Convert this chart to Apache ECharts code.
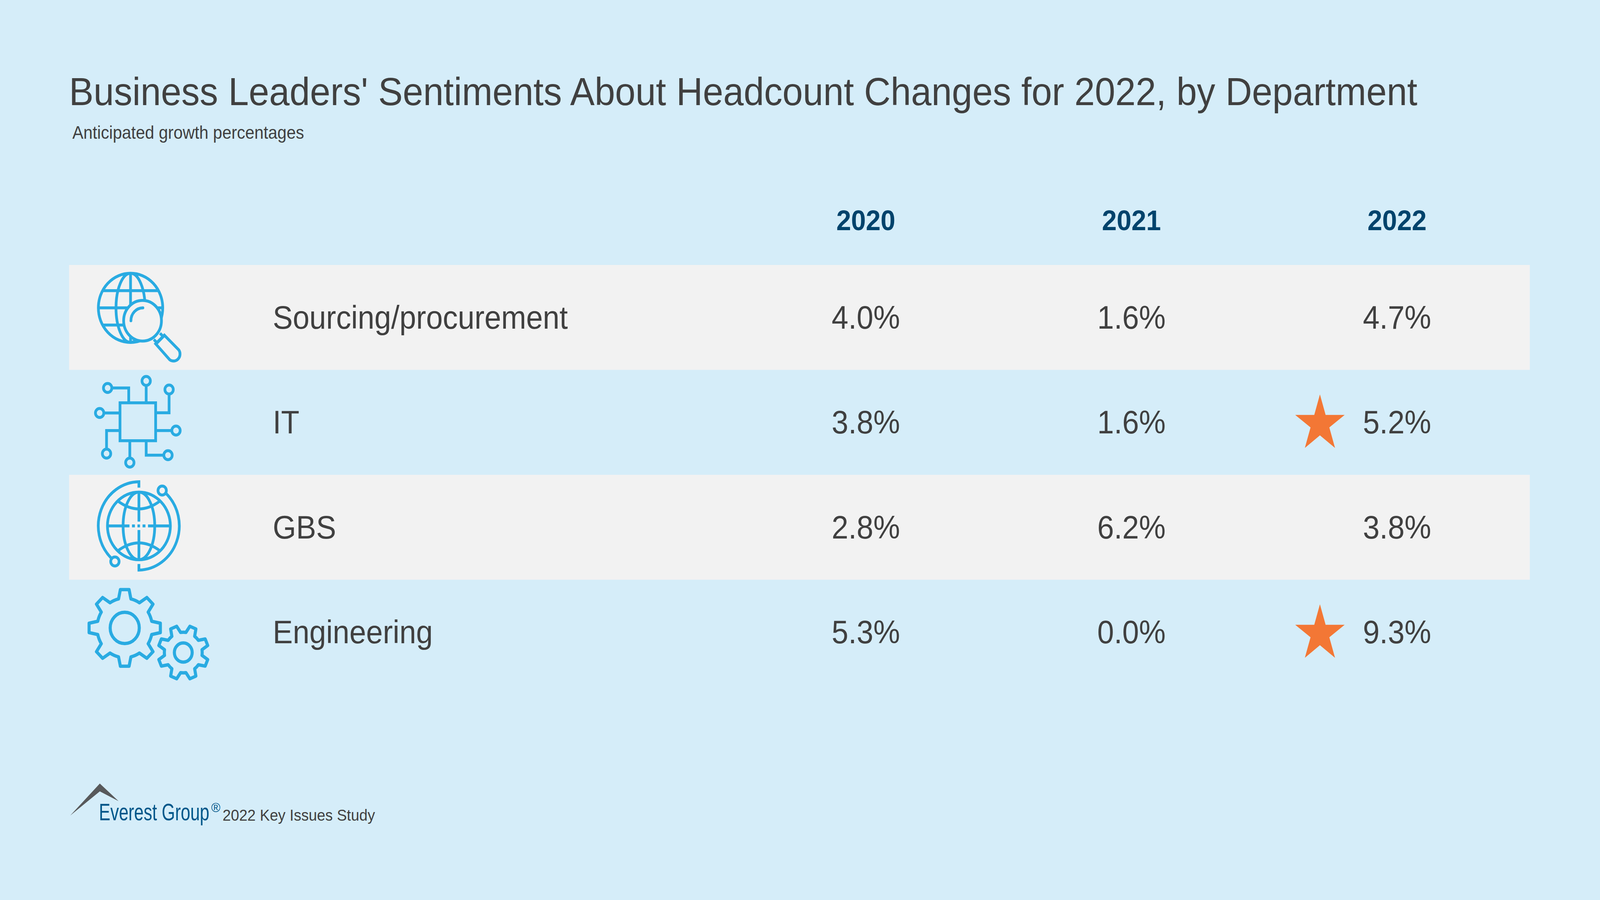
<!DOCTYPE html>
<html lang="en">
<head>
<meta charset="UTF-8">
<title>Business Leaders' Sentiments</title>
<style>
html, body { margin: 0; padding: 0; background: #d5edf9; overflow: hidden; }
#chart { width: 4400px; height: 2303px; transform-origin: 0 0; }
</style>
</head>
<body>
<div id="chart"></div>
<script src="https://cdn.jsdelivr.net/npm/echarts@6/dist/echarts.min.js"></script>
<script>
var departments = ['Sourcing/procurement', 'IT', 'GBS', 'Engineering'];
var years = [2020, 2021, 2022];
var values2020 = [4.0, 3.8, 2.8, 5.3];
var values2021 = [1.6, 1.6, 6.2, 0.0];
var values2022 = [4.7, 5.2, 3.8, 9.3];
var starred2022 = ['IT', 'Engineering'];

var titleText = "Business Leaders' Sentiments About Headcount Changes for 2022, by Department";
var subtitleText = 'Anticipated growth percentages';
var sourceText = '2022 Key Issues Study';

var FONT = '"Liberation Sans", Arial, sans-serif';
var TEXT = '#404040';
var ICON = '#29abe2';
var BAND = '#f2f2f2';
var BG = '#d5edf9';

// the browser window can come out narrower than the 4400 wide layout, fit it across
var chartEl = document.getElementById('chart');
if (window.innerWidth < 4400) {
	chartEl.style.transform = 'scaleX(' + window.innerWidth / 4400 + ')';
}

// icon helpers, coordinates are local to the row (x from band left, y from row centre)
function circ(cx, cy, r) {
	return 'M' + (cx - r) + ' ' + cy + ' A' + r + ' ' + r + ' 0 1 0 ' + (cx + r) + ' ' + cy +
		' A' + r + ' ' + r + ' 0 1 0 ' + (cx - r) + ' ' + cy + ' Z';
}
function ell(cx, cy, rx, ry) {
	return 'M' + (cx - rx) + ' ' + cy + ' A' + rx + ' ' + ry + ' 0 1 0 ' + (cx + rx) + ' ' + cy +
		' A' + rx + ' ' + ry + ' 0 1 0 ' + (cx - rx) + ' ' + cy + ' Z';
}
function gear(cx, cy, tipR, baseR, th, bh, rot) {
	var d = '';
	var v = Math.sqrt(baseR * baseR - bh * bh);
	function pt(a, u, w) {
		var s = Math.sin(a), c = Math.cos(a);
		return (cx + w * s + u * c).toFixed(1) + ' ' + (cy - w * c + u * s).toFixed(1);
	}
	for (var i = 0; i < 8; i++) {
		var a = rot + i * Math.PI / 4;
		d += (i === 0 ? 'M' : ' A' + baseR + ' ' + baseR + ' 0 0 1 ') + pt(a, -bh, v);
		d += ' L' + pt(a, -th, tipR) + ' L' + pt(a, th, tipR) + ' L' + pt(a, bh, v);
	}
	d += ' A' + baseR + ' ' + baseR + ' 0 0 1 ' + pt(rot, -bh, v) + ' Z';
	return d;
}

var iconParts = [
	[
		{ d: circ(169, -24.5, 88.5) + ' M169 -113 V64 ' + ell(169, -24.5, 40, 88.5) +
			' M92 -68.5 H246 M80.5 -24.5 H257.5 M92 19.5 H246' },
		{ d: circ(202, 8.5, 52), fill: BAND },
		{ d: 'M170 8.5 A33 33 0 0 1 203 -24.5', cap: 'round' },
		{ d: 'M262 45.5 L302 83.5 A18 18 0 0 1 277 108.5 L238 67.5 Z' },
		{ d: 'M250 40.5 L259 49 L242 65 L233 56.5' }
	],
	[
		{ d: 'M140 -50 H238 V47 H140 Z' },
		{ d: circ(106, -88, 11.5) + ' M117.5 -88 H164 V-50' },
		{ d: circ(212, -106, 11.5) + ' M212 -94.5 V-50' },
		{ d: circ(275, -84, 11.5) + ' M275 -72.5 V-24.6 H238' },
		{ d: circ(84, -24, 11.5) + ' M95.5 -24 H140' },
		{ d: circ(294, 21, 11.5) + ' M238 21 H282.5' },
		{ d: circ(103, 80, 11.5) + ' M103 68.5 V21 H140' },
		{ d: circ(167, 103, 11.5) + ' M167 91.5 V47' },
		{ d: circ(272, 84, 11.5) + ' M260.5 84 H212 V47' }
	],
	[
		{ d: circ(192, -3.5, 86.5) + ' ' + ell(192, -3.5, 43.5, 86.5) },
		{ d: 'M192 -90 V-14.5 M192 7 V83' },
		{ d: 'M108 -3.5 H166 M173 -3.5 H181 M188 -3.5 H195 M202 -3.5 H210 M217 -3.5 H275' },
		{ d: 'M135 -66.5 Q192 -27.5 249 -66.5 M135 59.5 Q192 20.5 249 59.5' },
		{ d: 'M192 -101.5 V-116.5 A113 113 0 0 0 115 78' },
		{ d: circ(126, 87.5, 11.5) },
		{ d: 'M192 94 V109.5 A113 113 0 0 0 266.7 -86.5' },
		{ d: circ(256, -94, 11.5) }
	],
	[
		{ d: gear(153, -11, 98, 76, 12, 17, 0) + ' ' + circ(153, -11, 40), w: 8.5 },
		{ d: gear(314, 52, 69, 52, 9, 13, Math.PI / 8) + ' ' + circ(314, 52, 24.5), w: 8.5 }
	]
];

var cellSeries = [values2020, values2021, values2022].map(function (vals, j) {
	return {
		name: String(years[j]),
		type: 'scatter',
		symbolSize: 1,
		itemStyle: { color: 'transparent', opacity: 1 },
		label: {
			show: true,
			position: 'inside',
			fontFamily: FONT,
			fontSize: 82.5,
			color: TEXT,
			opacity: 1,
			formatter: function (p) { return p.value[2].toFixed(1) + '%'; }
		},
		z: 5,
		data: vals.map(function (v, i) { return [years[j], i, v]; })
	};
});

var starData = departments.map(function (d, i) {
	return starred2022.indexOf(d) >= 0 ? [2022, i] : null;
}).filter(Boolean);

var iconSeries = {
	type: 'custom',
	clip: false,
	z: 4,
	encode: { x: 0, y: 1 },
	data: departments.map(function (d, i) { return [2017, i]; }),
	renderItem: function (params, api) {
		var p = api.coord([api.value(0), api.value(1)]);
		var parts = iconParts[params.dataIndex];
		return {
			type: 'group',
			x: p[0],
			y: p[1],
			children: parts.map(function (q) {
				return {
					type: 'path',
					shape: { pathData: q.d },
					style: {
						fill: q.fill || 'none',
						stroke: ICON,
						lineWidth: q.w || 7.5,
						lineCap: q.cap || 'butt',
						lineJoin: q.w ? 'round' : 'miter'
					}
				};
			})
		};
	}
};

var option = {
	backgroundColor: BG,
	animation: false,
	textStyle: { fontFamily: FONT },
	title: [
		{
			text: titleText,
			left: 190,
			top: 184,
			padding: 0,
			textStyle: { fontFamily: FONT, fontSize: 101, fontWeight: 'normal', color: TEXT }
		},
		{
			text: subtitleText,
			left: 199,
			top: 316,
			padding: 0,
			textStyle: { fontFamily: FONT, fontSize: 45.5, fontWeight: 'normal', color: TEXT }
		}
	],
	grid: { left: 190, top: 678, width: 4017, height: 1074 },
	xAxis: {
		type: 'value',
		position: 'top',
		min: 2017,
		max: 2022.5,
		interval: 1,
		axisLine: { show: false },
		axisTick: { show: false },
		splitLine: { show: false },
		axisLabel: {
			showMaxLabel: false,
			fontFamily: FONT,
			fontSize: 73,
			fontWeight: 'bold',
			color: '#00436c',
			verticalAlign: 'middle',
			margin: 114,
			formatter: function (v) { return years.indexOf(v) >= 0 ? String(v) : ''; }
		}
	},
	yAxis: {
		type: 'category',
		inverse: true,
		data: departments,
		axisLine: { show: false },
		axisTick: { show: false },
		splitLine: { show: false },
		splitArea: { show: true, interval: 0, areaStyle: { color: [BAND, 'transparent'] } },
		axisLabel: {
			inside: true,
			margin: 560,
			align: 'left',
			fontFamily: FONT,
			fontSize: 82.5,
			color: TEXT
		}
	},
	series: cellSeries.concat([
		{
			name: 'star',
			type: 'scatter',
			symbol: 'path://M50 0 L61.5 38.3 L100 38.3 L69 61.7 L80.5 100 L50 76.5 L19.5 100 L31 61.7 L0 38.3 L38.5 38.3 Z',
			symbolSize: [136, 137],
			symbolOffset: [-212, -3],
			itemStyle: { color: '#f37735', opacity: 1 },
			z: 4,
			data: starData
		},
		iconSeries
	]),
	graphic: [
		{
			type: 'polygon',
			shape: { points: [[274.5, 2005], [326, 2050], [274.5, 2025], [193, 2087]] },
			style: { fill: '#58595b' }
		},
		{
			type: 'text',
			x: 272,
			y: 2046,
			scaleX: 0.76,
			style: { text: 'Everest Group', fontFamily: FONT, fontSize: 62, fill: '#00578a' }
		},
		{
			type: 'text',
			x: 581,
			y: 2049,
			style: { text: '®', fontFamily: FONT, fontSize: 34, fill: '#00578a' }
		},
		{
			type: 'text',
			x: 612,
			y: 2065,
			style: { text: sourceText, fontFamily: FONT, fontSize: 41, fill: TEXT }
		}
	]
};

var myChart = echarts.init(chartEl, null, { renderer: 'svg' });
myChart.setOption(option);
</script>
</body>
</html>
